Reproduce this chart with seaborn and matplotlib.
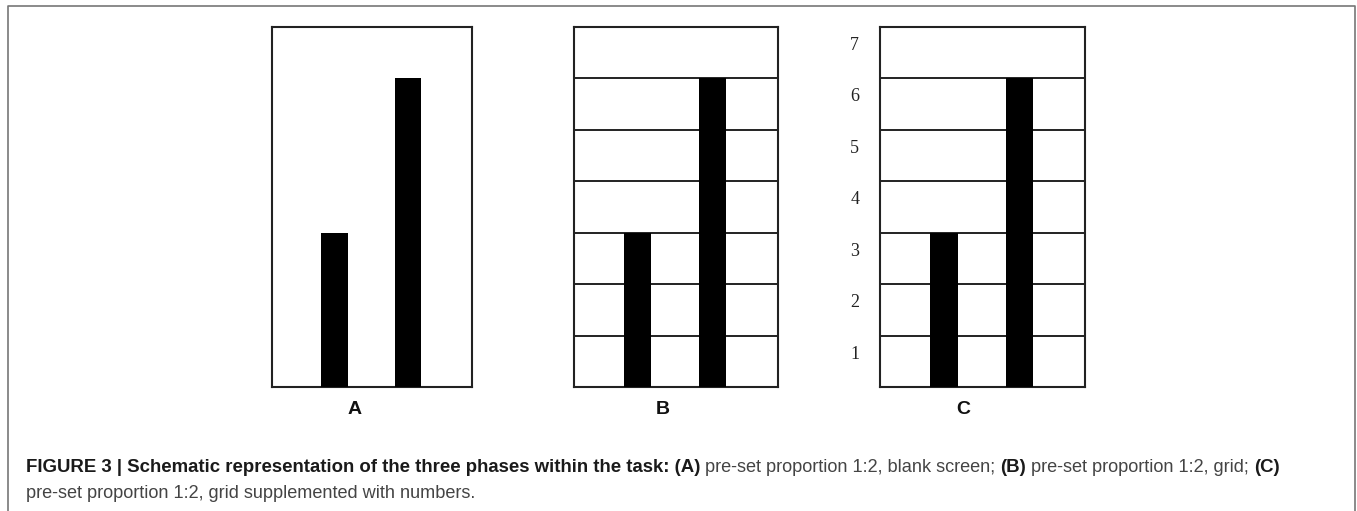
import matplotlib
matplotlib.use("Agg")
import matplotlib.pyplot as plt
import seaborn as sns
import pandas as pd
from matplotlib.lines import Line2D

# Данные
PANELS = ["A", "B", "C"]
BAR_NAMES = ["short", "long"]
BAR_VALUES = [3, 6]
GRID_LEVELS = [1, 2, 3, 4, 5, 6]
SCALE_LABELS = ["1", "2", "3", "4", "5", "6", "7"]
Y_MAX = 7

CAPTION_LINE1 = [
    ("FIGURE 3 | Schematic representation of the three phases within the task: (A)", "bold"),
    (" pre-set proportion 1:2, blank screen; ", "normal"),
    ("(B)", "bold"),
    (" pre-set proportion 1:2, grid; ", "normal"),
    ("(C)", "bold"),
]
CAPTION_LINE2 = "pre-set proportion 1:2, grid supplemented with numbers."

sns.set_style("white")
plt.rcParams["font.family"] = ["Liberation Sans", "DejaVu Sans"]

W, H = 1357, 511
fig = plt.figure(figsize=(W / 100, H / 100), dpi=100)

# пиксельные границы панелей (left, right) и центры подписей
boxes = [(272, 472), (574, 778), (880, 1085)]
letter_x = [355, 663, 963]
top_px, bottom_px = 27, 387

df = pd.DataFrame({"bar": BAR_NAMES, "value": BAR_VALUES})

for i, (panel, (l, r)) in enumerate(zip(PANELS, boxes)):
    ax = fig.add_axes([l / W, 1 - bottom_px / H, (r - l) / W, (bottom_px - top_px) / H])
    if i > 0:
        for lvl in GRID_LEVELS:
            ax.axhline(lvl, color="#111111", lw=1.3, zorder=1)
    sns.barplot(data=df, x="bar", y="value", color="black", width=0.36,
                saturation=1, ax=ax, zorder=3, edgecolor="black", linewidth=0)
    ax.set_ylim(0, Y_MAX)
    ax.set_xlim(-0.85, 1.87)
    ax.set_xlabel("")
    ax.set_ylabel("")
    ax.set_xticks([])
    if i == 2:
        ax.set_yticks([k - 0.32 for k in range(1, Y_MAX + 1)])
        ax.set_yticklabels(SCALE_LABELS, family="Liberation Serif", fontsize=13,
                           color="#222222")
        ax.tick_params(axis="y", length=0, pad=15)
    else:
        ax.set_yticks([])
    for s in ax.spines.values():
        s.set_visible(True)
        s.set_color("#222222")
        s.set_linewidth(1.5)
    fig.text(letter_x[i] / W, 1 - 410 / H, panel, ha="center", va="center",
             fontsize=14, fontweight="bold", color="#111111")

# рамка вокруг рисунка
fig.add_artist(Line2D([8 / W, 8 / W, 1355 / W, 1355 / W],
                      [0, 1 - 6 / H, 1 - 6 / H, 0],
                      transform=fig.transFigure, color="#777777", lw=1.2))

# подпись: жирные и обычные куски идут друг за другом
renderer = fig.canvas.get_renderer()
x = 26
y1 = 1 - 468 / H
for txt, weight in CAPTION_LINE1:
    bold = weight == "bold"
    t = fig.text(x / W, y1, txt, fontsize=13.4 if bold else 13.1, fontweight=weight,
                 color="#1a1a1a" if bold else "#444444", va="center", ha="left")
    x = t.get_window_extent(renderer).x1
fig.text(26 / W, 1 - 493 / H, CAPTION_LINE2, fontsize=13.1, color="#444444",
         va="center", ha="left")

plt.savefig("out.png", dpi=100)
